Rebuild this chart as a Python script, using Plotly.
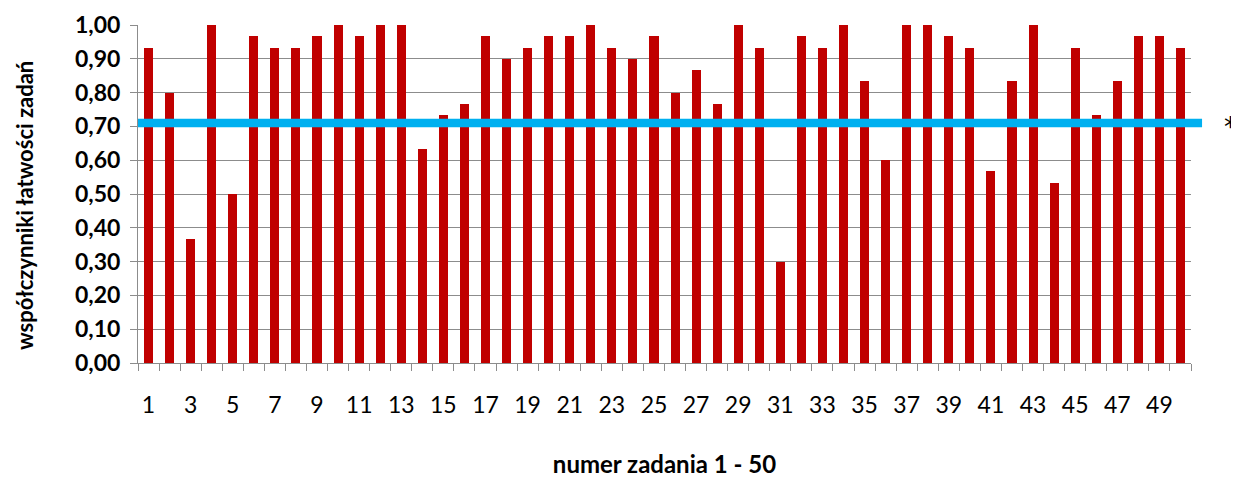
import plotly.graph_objects as go

# ---- data ----
zadania = list(range(1, 51))
wspolczynniki = [
    0.933, 0.800, 0.367, 1.000, 0.500, 0.967, 0.933, 0.933, 0.967, 1.000,
    0.967, 1.000, 1.000, 0.633, 0.733, 0.767, 0.967, 0.900, 0.933, 0.967,
    0.967, 1.000, 0.933, 0.900, 0.967, 0.800, 0.867, 0.767, 1.000, 0.933,
    0.300, 0.967, 0.933, 1.000, 0.833, 0.600, 1.000, 1.000, 0.967, 0.933,
    0.567, 0.833, 1.000, 0.533, 0.933, 0.733, 0.833, 0.967, 0.967, 0.933,
]
prog = 0.71
x_tick_vals = list(range(1, 51, 2))
x_tick_text = [str(v) for v in x_tick_vals]
y_tick_vals = [i / 10 for i in range(0, 11)]
x_title = "numer zadania 1 - 50"
y_title = "współczynniki łatwości zadań"

FONT = "Lato"
GRID = "#8c8c8c"

fig = go.Figure()
fig.add_trace(go.Bar(
    x=zadania, y=wspolczynniki,
    marker=dict(color="#C00000", line=dict(width=0)),
    width=0.43,
    showlegend=False,
))

fig.add_shape(type="line", xref="paper", yref="y",
              x0=0, x1=1.0105, y0=prog, y1=prog,
              line=dict(color="#00B0F0", width=8.5), layer="above")

fig.add_annotation(text="*", xref="paper", yref="y", x=1.0445, y=prog,
                   showarrow=False, borderpad=0,
                   font=dict(family="DejaVu Sans", size=26, color="#000000"),
                   xanchor="right", yanchor="middle", yshift=-4)

fig.add_annotation(text="<b>" + y_title + "</b>", xref="paper", yref="paper",
                   x=-0.1085, y=0.467, textangle=-90, showarrow=False,
                   borderpad=0,
                   font=dict(family=FONT, size=22, color="#000000"),
                   xanchor="center", yanchor="middle")

fig.update_layout(
    width=1231, height=470,
    margin=dict(l=130, r=48, t=17, b=115),
    paper_bgcolor="white", plot_bgcolor="white",
    separators=", ",
    font=dict(family=FONT, color="#000000"),
    bargap=0,
)

fig.update_xaxes(
    automargin=False,
    range=[0.5, 50.5],
    tickmode="array", tickvals=x_tick_vals, ticktext=x_tick_text,
    ticks="", ticklen=0,
    tickfont=dict(family=FONT, size=23, color="#000000"),
    ticklabelstandoff=21,
    showgrid=False, zeroline=False,
    showline=True, linecolor=GRID, linewidth=1,
    minor=dict(tick0=0.5, dtick=1, ticks="outside", ticklen=7,
               tickcolor=GRID, tickwidth=1, showgrid=False),
    title=dict(text="<b>" + x_title + "</b>",
               font=dict(family=FONT, size=24, color="#000000"), standoff=42),
)

fig.update_yaxes(
    automargin=False,
    range=[0, 1.0],
    tickmode="array", tickvals=y_tick_vals,
    tickformat=".2f",
    ticks="outside", ticklen=7, tickcolor=GRID, tickwidth=1,
    tickfont=dict(family=FONT, size=23, color="#000000", weight="bold"),
    ticklabelstandoff=5,
    showgrid=True, gridcolor=GRID, gridwidth=1,
    zeroline=False,
    showline=True, linecolor=GRID, linewidth=1,
)

fig.write_html("out.html")
